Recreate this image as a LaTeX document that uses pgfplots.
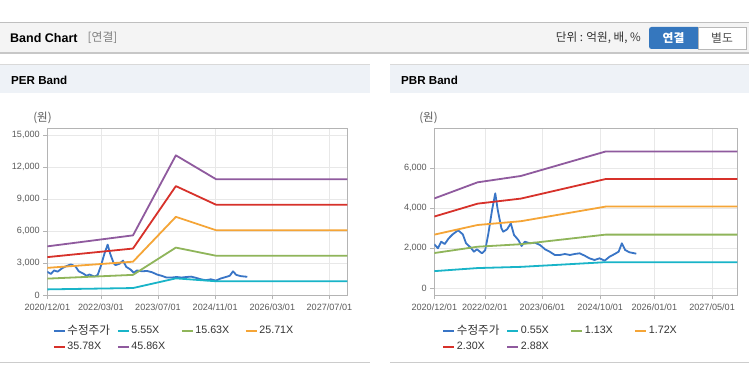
\documentclass[border=0pt]{standalone}
\usepackage{fontspec}
\setmainfont{Liberation Sans}
\newfontfamily\kr{Noto Sans CJK KR}
\usepackage{pgfplots}
\usepackage{pgfplotstable}
\pgfplotsset{compat=1.18}
\definecolor{cBlue}{HTML}{3975C6}
\definecolor{cCyan}{HTML}{19B4C8}
\definecolor{cGreen}{HTML}{8FB55A}
\definecolor{cOrange}{HTML}{F5A537}
\definecolor{cRed}{HTML}{D7312A}
\definecolor{cPurple}{HTML}{8F5A9E}
\definecolor{gridc}{HTML}{E8E8E8}
\definecolor{framec}{HTML}{B4B4B4}
\definecolor{labelc}{HTML}{5A5A5A}
\definecolor{hdr}{HTML}{F4F4F4}
\definecolor{phdr}{HTML}{EEF2F7}
\definecolor{btnblue}{HTML}{3577BE}

\pgfplotstableread{
m p
0 2200
1 2000
1.9 2330
2.9 2215
4 2500
5.1 2700
6.6 2900
7.9 2700
8.8 2250
10 2050
11 1830
11.8 1950
13.2 1750
14.1 1900
15 2750
16 3900
16.9 4750
17.6 3900
18.6 3000
19.1 2830
20.2 2950
21.2 3250
22.1 2665
23.3 2415
24.2 2115
25.1 2330
26.5 2250
27.9 2280
29.3 2165
30.7 1950
32 1830
33.4 1665
34.8 1665
36.2 1715
37.6 1665
38.9 1715
40.3 1750
41.7 1630
43 1500
44.4 1415
45.8 1500
47.2 1380
48.6 1580
50 1715
51.1 1830
52 2250
52.9 1915
54.1 1800
55.5 1750
56 1730
}\price

\pgfplotstableread{
m a b c d e
0 555 1563 2571 3578 4586
24 680 1915 3150 4383 5618
36 1587 4470 7353 10233 13116
47.3 1315 3704 6093 8480 10869
84 1315 3704 6093 8480 10869
}\perband

\pgfplotstableread{
m a b c d e
0 858 1763 2683 3588 4493
12 1012 2079 3165 4232 5299
24 1072 2204 3354 4485 5616
47.5 1306 2684 4085 5463 6840
84 1306 2684 4085 5463 6840
}\pbrband

\pgfplotsset{
  bandaxis/.style={
    scale only axis,
    scaled ticks=false,
    axis background/.style={fill=white},
    grid=major,
    major grid style={gridc, line width=0.6pt},
    axis line style={framec, line width=0.8pt},
    tick style={framec, line width=0.6pt},
    tick align=outside,
    major tick length=4pt,
    xtick pos=bottom, ytick pos=left,
    ticklabel style={font=\fontsize{9.1}{10}\selectfont, text=labelc},
    xticklabel style={yshift=-1pt},
    /pgf/number format/.cd, 1000 sep={,}, assume math mode=true, /pgfplots/.cd,
    every axis plot/.append style={line width=1.8pt, line join=round, mark=none},
    legend columns=4,
    legend image code/.code={\draw[#1, line width=2pt] (0pt,0pt) -- (11pt,0pt);},
    legend style={draw=none, fill=none, inner sep=0pt, row sep=3pt,
      font=\fontsize{10.7}{12}\selectfont, text=black!80,
      nodes={inner sep=1.5pt}},
  }
}

\newcommand{\lt}[1]{\makebox[48pt][l]{#1}}

\begin{document}
\begin{tikzpicture}[x=1pt,y=1pt]
\useasboundingbox (0,0) rectangle (749,364);
\fill[white] (0,0) rectangle (749,364);
% top header bar
\fill[hdr] (0,311) rectangle (749,342);
\draw[black!25, line width=0.8pt] (0,341.6) -- (749,341.6);
\draw[black!22, line width=1.2pt] (0,311) -- (749,311);
\node[anchor=west, inner sep=0pt] at (10,326) {\bfseries\fontsize{12.5}{14}\selectfont Band Chart};
\node[anchor=west, inner sep=0pt, text=black!50] at (87.5,326) {\kr\fontsize{11.8}{13}\selectfont [연결]};
\node[anchor=east, inner sep=0pt, text=black!80] at (641,326) {\kr\fontsize{11.6}{13}\selectfont 단위 : 억원, 배, \%};
\fill[btnblue, rounded corners=2.5pt] (649,315) rectangle (700,337);
\fill[btnblue] (690,315) rectangle (698,337);
\node[text=white] at (673.5,326) {\kr\bfseries\fontsize{11.8}{13}\selectfont 연결};
\draw[black!28, fill=white] (698,315) rectangle (746,337);
\node[text=black!70] at (722,326) {\kr\fontsize{11.8}{13}\selectfont 별도};

% panel headers
\fill[phdr] (0,271) rectangle (370,299);
\fill[phdr] (390,271) rectangle (749,299);
\draw[black!15, line width=0.8pt] (0,299.6) -- (370,299.6);
\draw[black!15, line width=0.8pt] (390,299.6) -- (749,299.6);
\node[anchor=west, inner sep=0pt] at (11,283.3) {\bfseries\fontsize{11.6}{13}\selectfont PER Band};
\node[anchor=west, inner sep=0pt] at (401,283.3) {\bfseries\fontsize{11.6}{13}\selectfont PBR Band};
\draw[black!20, line width=1pt] (0,1.5) -- (370,1.5);
\draw[black!20, line width=1pt] (390,1.5) -- (749,1.5);

\node[text=labelc] at (42.5,245.7) {\kr\fontsize{11.5}{13}\selectfont (원)};
\node[text=labelc] at (428.5,245.7) {\kr\fontsize{11.5}{13}\selectfont (원)};

% PER axis
\begin{axis}[bandaxis,
  at={(47.3pt,68.7pt)}, anchor=south west,
  width=300pt, height=167pt,
  xmin=0, xmax=84, ymin=0, ymax=15650,
  ytick={0,3000,6000,9000,12000,15000},
  xtick={0,15,31,47,63,79},
  xticklabels={2020/12/01,2022/03/01,2023/07/01,2024/11/01,2026/03/01,2027/07/01},
  legend style={at={(0.018,-0.17)}, anchor=north west},
]
\addplot[cBlue] table[x=m,y=p] {\price};
\addplot[cCyan] table[x=m,y=a] {\perband};
\addplot[cGreen] table[x=m,y=b] {\perband};
\addplot[cOrange] table[x=m,y=c] {\perband};
\addplot[cRed] table[x=m,y=d] {\perband};
\addplot[cPurple] table[x=m,y=e] {\perband};
\legend{\lt{\kr\fontsize{11.6}{12}\selectfont 수정주가},\lt{5.55X},\lt{15.63X},\lt{25.71X},\lt{35.78X},\lt{45.86X}}
\end{axis}

% PBR axis
\begin{axis}[bandaxis,
  at={(434.3pt,69pt)}, anchor=south west,
  width=303pt, height=166.7pt,
  xmin=0, xmax=84, ymin=-335, ymax=8000,
  ytick={0,2000,4000,6000},
  xtick={0,14,30,46,61,77},
  xticklabels={2020/12/01,2022/02/01,2023/06/01,2024/10/01,2026/01/01,2027/05/01},
  legend style={at={(0.026,-0.17)}, anchor=north west},
]
\addplot[cBlue] table[x=m,y=p] {\price};
\addplot[cCyan] table[x=m,y=a] {\pbrband};
\addplot[cGreen] table[x=m,y=b] {\pbrband};
\addplot[cOrange] table[x=m,y=c] {\pbrband};
\addplot[cRed] table[x=m,y=d] {\pbrband};
\addplot[cPurple] table[x=m,y=e] {\pbrband};
\legend{\lt{\kr\fontsize{11.6}{12}\selectfont 수정주가},\lt{0.55X},\lt{1.13X},\lt{1.72X},\lt{2.30X},\lt{2.88X}}
\end{axis}
\end{tikzpicture}
\end{document}
